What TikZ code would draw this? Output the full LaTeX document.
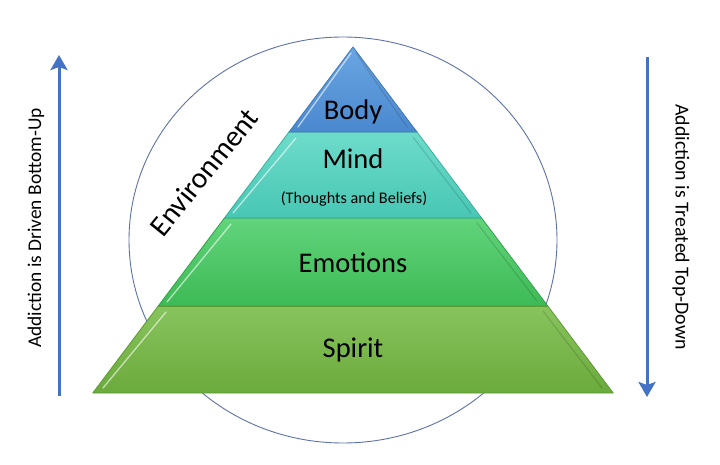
\documentclass[tikz,border=0pt]{standalone}
\usepackage{fontspec}
\setmainfont{Carlito}
\usetikzlibrary{arrows.meta}
\definecolor{arrowblue}{HTML}{4472C4}
\definecolor{ringblue}{HTML}{5E72A8}
\definecolor{bodytop}{HTML}{6AA6E2}
\definecolor{bodybot}{HTML}{4A88CF}
\definecolor{bodyline}{HTML}{3F77B8}
\definecolor{mindtop}{HTML}{6EDCCB}
\definecolor{mindbot}{HTML}{48C6B4}
\definecolor{mindline}{HTML}{3AAE9C}
\definecolor{emotop}{HTML}{62D47C}
\definecolor{emobot}{HTML}{3DBA55}
\definecolor{emoline}{HTML}{34A04A}
\definecolor{spirtop}{HTML}{88C45E}
\definecolor{spirbot}{HTML}{6BAA3C}
\definecolor{spirline}{HTML}{5E9A34}
\tikzset{
  hilite/.style={draw=white, opacity=0.6, line width=1.3pt, line cap=round},
  shadow/.style={draw=black, opacity=0.12, line width=1.3pt, line cap=round},
  lbl/.style={inner sep=0pt, text=black},
  bandfont/.style={font=\fontsize{28.5}{32}\selectfont},
  bigarrow/.style={draw=arrowblue, line width=3pt, -{Stealth[length=15pt,width=17pt,inset=3pt]}},
}
\begin{document}
\begin{tikzpicture}[x=1pt,y=-1pt]
\useasboundingbox (0,0) rectangle (720,465);
\fill[white] (0,0) rectangle (720,465);
% environment ring
\draw[ringblue, line width=0.9pt] (343,240) ellipse [x radius=214, y radius=203];
% pyramid bands
\shade[top color=spirtop, bottom color=spirbot] (158.2,306) -- (547.8,306) -- (613.2,393) -- (92.8,393) -- cycle;
\draw[spirline, line width=0.8pt, line join=round] (158.2,306) -- (547.8,306) -- (613.2,393) -- (92.8,393) -- cycle;
\shade[top color=emotop, bottom color=emobot] (224.4,218) -- (481.6,218) -- (547.8,306) -- (158.2,306) -- cycle;
\draw[emoline, line width=0.8pt, line join=round] (224.4,218) -- (481.6,218) -- (547.8,306) -- (158.2,306) -- cycle;
\shade[top color=mindtop, bottom color=mindbot] (289,132) -- (417,132) -- (481.6,218) -- (224.4,218) -- cycle;
\draw[mindline, line width=0.8pt, line join=round] (289,132) -- (417,132) -- (481.6,218) -- (224.4,218) -- cycle;
\shade[top color=bodytop, bottom color=bodybot] (353,47) -- (417,132) -- (289,132) -- cycle;
\draw[bodyline, line width=0.8pt, line join=round] (353,47) -- (417,132) -- (289,132) -- cycle;
% bevel highlights
\draw[hilite] (166,312) -- (103,388);
\draw[hilite] (231,224) -- (167,302);
\draw[hilite] (296,138) -- (233,213);
\draw[hilite] (351,53) -- (298,127);
\draw[shadow] (543,311) -- (602,388);
\draw[shadow] (477,223) -- (537,301);
\draw[shadow] (413,137) -- (471,213);
\draw[shadow] (356,53) -- (407,127);
\draw[spirline, line width=1.2pt] (159,306.5) -- (547,306.5);
% labels
\node[lbl, bandfont] (body) at (353,112) {Body};
\node[lbl, bandfont] (mind) at (353,159) {Mind};
\node[lbl, font=\fontsize{16.2}{19}\selectfont] (mindsub) at (354,199) {(Thoughts and Beliefs)};
\node[lbl, bandfont] (emotions) at (353,263) {Emotions};
\node[lbl, bandfont] (spirit) at (353,350) {Spirit};
\node[lbl, font=\fontsize{29.5}{33}\selectfont, rotate=51] (environment) at (204,172) {Environment};
% side arrows
\coordinate (upbot) at (59,396);
\coordinate (uptop) at (59,55);
\coordinate (downtop) at (647,57);
\coordinate (downbot) at (647,397);
\draw[bigarrow] (upbot) -- (uptop);
\draw[bigarrow] (downtop) -- (downbot);
\node[lbl, font=\fontsize{19.4}{22}\selectfont, rotate=90] (uptext) at (36,228) {Addiction is Driven Bottom-Up};
\node[lbl, font=\fontsize{19.8}{22}\selectfont, rotate=-90] (downtext) at (681,227) {Addiction is Treated Top-Down};
\end{tikzpicture}
\end{document}
